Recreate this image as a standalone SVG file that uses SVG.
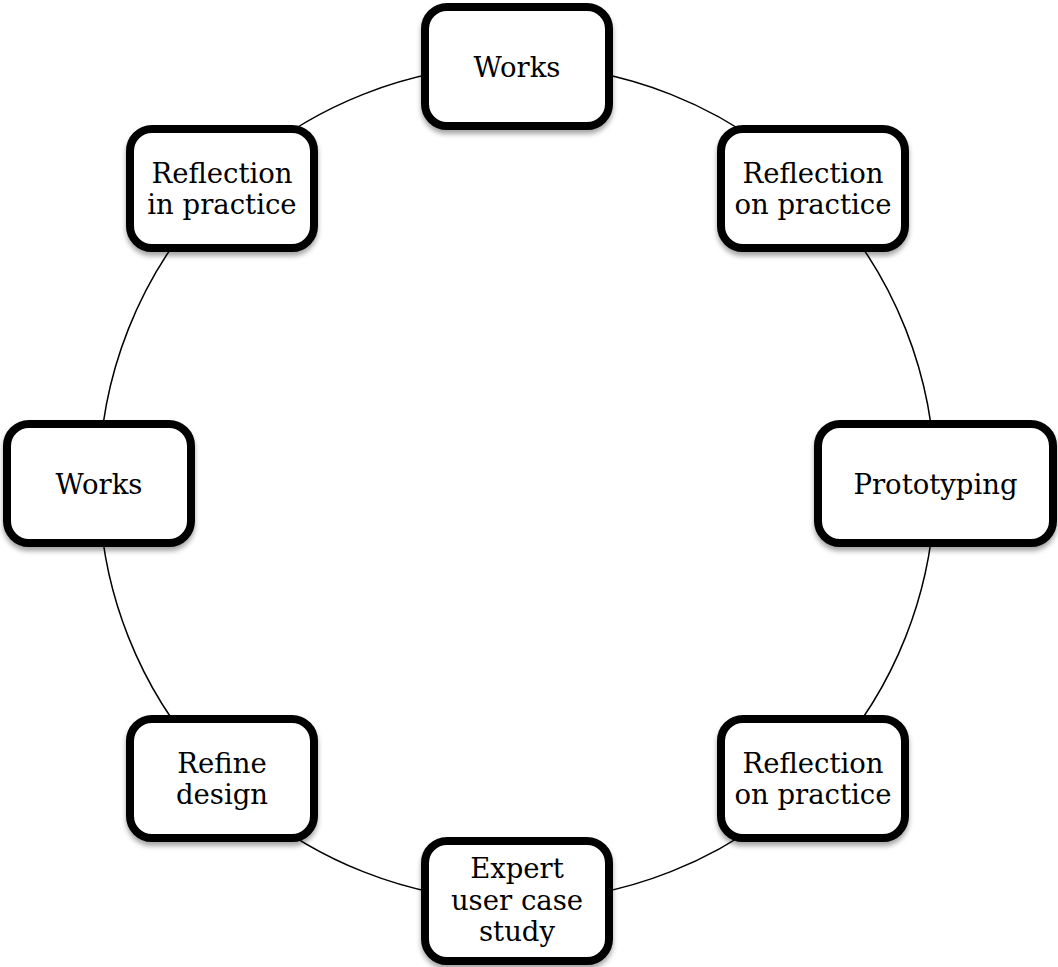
<svg xmlns="http://www.w3.org/2000/svg" width="1058" height="967" viewBox="0 0 1058 967">
  <defs>
    <filter id="shadow" x="-20%" y="-20%" width="140%" height="150%">
      <feDropShadow dx="0" dy="4" stdDeviation="2.5" flood-color="#000" flood-opacity="0.35"/>
    </filter>
    <style>
      .box { fill: #fff; stroke: #000; stroke-width: 8; filter: url(#shadow); }
      .label { font-family: "DejaVu Serif", "Liberation Serif", serif; font-size: 27.5px; fill: #000; text-anchor: middle; }
      .ring { fill: none; stroke: #000; stroke-width: 1.5; }
    </style>
  </defs>
  <rect width="1058" height="967" fill="#fff"/>

  <!-- cycle ring linking the stages -->
  <g id="connectors">
    <circle class="ring" cx="517" cy="483" r="418"/>
  </g>

  <g id="works-top">
    <rect class="box" x="425" y="7" width="184" height="119" rx="22"/>
    <text class="label" x="517" y="77">Works</text>
  </g>

  <g id="reflection-on-practice-top">
    <rect class="box" x="721" y="129" width="184" height="119" rx="22"/>
    <text class="label" x="813" y="183">Reflection</text>
    <text class="label" x="813" y="214">on practice</text>
  </g>

  <g id="prototyping">
    <rect class="box" x="818" y="424" width="235" height="119" rx="22"/>
    <text class="label" x="935.5" y="494">Prototyping</text>
  </g>

  <g id="reflection-on-practice-bottom">
    <rect class="box" x="721" y="719" width="184" height="119" rx="22"/>
    <text class="label" x="813" y="773">Reflection</text>
    <text class="label" x="813" y="804">on practice</text>
  </g>

  <g id="expert-user-case-study">
    <rect class="box" x="425" y="841" width="184" height="120" rx="22"/>
    <text class="label" x="517" y="878">Expert</text>
    <text class="label" x="517" y="910">user case</text>
    <text class="label" x="517" y="941">study</text>
  </g>

  <g id="refine-design">
    <rect class="box" x="130" y="719" width="184" height="119" rx="22"/>
    <text class="label" x="222" y="773">Refine</text>
    <text class="label" x="222" y="804">design</text>
  </g>

  <g id="works-left">
    <rect class="box" x="7" y="424" width="184" height="119" rx="22"/>
    <text class="label" x="99" y="494">Works</text>
  </g>

  <g id="reflection-in-practice">
    <rect class="box" x="130" y="129" width="184" height="119" rx="22"/>
    <text class="label" x="222" y="183">Reflection</text>
    <text class="label" x="222" y="214">in practice</text>
  </g>
</svg>
